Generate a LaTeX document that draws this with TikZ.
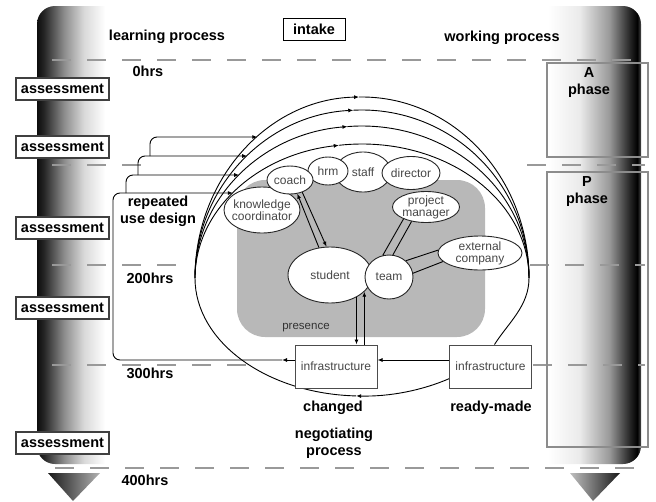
\documentclass[tikz,border=0pt]{standalone}
\usepackage{fontspec}
\setmainfont{Liberation Sans}
\usetikzlibrary{arrows.meta, shapes.geometric, calc}

\pgfdeclarehorizontalshading{leftbar}{100bp}{color(0bp)=(black); color(25bp)=(black!95); color(30bp)=(black!85); color(44bp)=(black!45); color(58bp)=(black!15); color(73bp)=(white); color(100bp)=(white)}
\pgfdeclarehorizontalshading{rightbar}{100bp}{color(0bp)=(white); color(25bp)=(white); color(42bp)=(black!8); color(58bp)=(black!40); color(69bp)=(black!85); color(73bp)=(black); color(75bp)=(black!70); color(100bp)=(black!70)}

\begin{document}
\begin{tikzpicture}[x=1pt, y=1pt, line width=0.9pt, >={Latex[length=5pt,width=4pt]},
  lbl/.style={font=\bfseries\fontsize{14.5}{17}\selectfont, inner sep=1pt, align=center},
  assess/.style={draw=black!75, line width=1.2pt, fill=white, minimum width=93pt, minimum height=22pt, inner sep=0pt, font=\bfseries\fontsize{14.5}{15}\selectfont},
  hourline/.style={draw=black!40, line width=2pt, dash pattern=on 19pt off 16pt},
  bubble/.style={ellipse, draw=black!85, line width=0.9pt, fill=white, inner sep=0pt},
  btext/.style={font=\fontsize{12}{12}\selectfont, text=black!72, align=center, inner sep=0pt},
  infra/.style={draw=black!70, line width=1pt, fill=white, minimum width=82pt, minimum height=43pt, font=\fontsize{12}{12}\selectfont, text=black!72},
  phasebox/.style={draw=black!45, line width=1.5pt, inner sep=0pt}]

  \useasboundingbox (0,0) rectangle (656,-501);

  % --- Time bars ---
  \shade[shading=leftbar] (108,-6) -- (55,-6) arc[start angle=90, end angle=180, radius=18]
    -- (37,-446) arc[start angle=180, end angle=270, radius=18] -- (108,-464) -- cycle;
  \shade[shading=rightbar] (548,-6) -- (623,-6) arc[start angle=90, end angle=0, radius=18]
    -- (641,-446) arc[start angle=0, end angle=-90, radius=18] -- (548,-464) -- cycle;
  \shade[left color=black!90, right color=black!30] (48,-473) -- (100,-473) -- (73,-501) -- cycle;
  \shade[left color=black!25, right color=black!90] (570,-473) -- (620,-473) -- (593,-501) -- cycle;

  % --- Hour lines ---
  \foreach \ya/\xa/\xb in {60/52/645, 165/52/150, 165/527/645, 265/52/178, 265/530/645,
                           365/52/253, 365/533/645, 468/55/645}
    \draw[hourline] (\xa,-\ya) -- (\xb,-\ya);

  % --- Presence area ---
  \fill[black!28, rounded corners=28pt] (237,-180) rectangle (485,-337);
  \node[font=\fontsize{11.5}{12}\selectfont, text=black!80] (presence) at (306,-328) {presence};

  % --- Use cycles ---
  \coordinate (hub) at (362,-278);
  \coordinate (arcR) at ([xshift=167pt]hub);
  \foreach \nm/\ry/\ta/\ty in {A/181/91/137, B/168/93/156, C/152/95/175, D/134/98/193} {
    \draw[->] ([shift={(180:167 and \ry)}]hub) arc[start angle=180, end angle=\ta, x radius=167, y radius=\ry];
    \draw ([shift={(\ta:167 and \ry)}]hub) arc[start angle=\ta, end angle=0, x radius=167, y radius=\ry];
    \coordinate (tip\nm) at ({362-167*sqrt(1-((278-\ty)/\ry)^2)},-\ty);
  }
  % lower half of the loop, back from the ready-made box
  \draw[->] ([shift={(302:167 and 118)}]hub) arc[start angle=302, end angle=268, x radius=167, y radius=118];
  \draw ([shift={(268:167 and 118)}]hub) arc[start angle=268, end angle=180, x radius=167, y radius=118];

  % --- Infrastructure boxes ---
  \node[infra] (changed) at (336,-366.5) {infrastructure};
  \node[infra] (ready) at (490.5,-366.5) {infrastructure};
  \draw (arcR) .. controls +(0,-28) and +(14,22) .. ([xshift=4pt]ready.north);

  % --- Repeated use tabs ---
  \coordinate (dropL) at (282,-360);
  \foreach \nm/\tx/\ny in {A/150/156, B/138/175, C/126/193}
    \draw[->, rounded corners=7pt] (\tx,-\ny) |- (tip\nm);
  \draw[->] ([yshift=6.5pt]changed.west) -- (dropL);
  \draw[->, rounded corners=7pt] (dropL) -| (113,-193) -- (tipD);
  \draw[->] ([yshift=6.5pt]ready.west) -- ([yshift=6.5pt]changed.east);

  % --- Actors ---
  \node[bubble, minimum width=56pt, minimum height=40pt, label={[btext]center:staff}] (staff) at (363,-172) {};
  \node[bubble, minimum width=40pt, minimum height=28pt, label={[btext]center:hrm}] (hrm) at (328,-171) {};
  \node[bubble, minimum width=58pt, minimum height=33pt, label={[btext]center:director}] (director) at (411,-173) {};
  \node[bubble, minimum width=76pt, minimum height=46pt, label={[btext]center:{knowledge\\coordinator}}] (kc) at (262,-210) {};
  \node[bubble, minimum width=46pt, minimum height=28pt, label={[btext]center:coach}] (coach) at (290,-180) {};
  \node[bubble, minimum width=67pt, minimum height=31pt, label={[btext]center:{project\\manager}}] (pm) at (426,-207) {};
  \node[bubble, minimum width=84pt, minimum height=34pt, label={[btext]center:{external\\company}}] (ext) at (480,-253) {};
  \node[bubble, minimum width=84pt, minimum height=56pt, label={[btext]center:student}] (student) at (330,-275) {};
  \node[bubble, minimum width=48pt, minimum height=44pt, label={[btext]center:team}] (team) at (389,-277) {};

  % --- Relations ---
  \draw[<-] (coach.-62) -- (student.112);
  \draw[->] (coach.-45) -- (student.97);
  \draw (pm.-152) -- (team.106);
  \draw (pm.-135) -- (team.80);
  \draw (team.44) -- (ext.176);
  \draw (team.9) -- (ext.-167);
  \draw[->] (student.-40) -- (student.-40 |- changed.north);
  \draw[<-] (student.-26) -- (student.-26 |- changed.north);

  % --- Labels ---
  \node[lbl] (learn) at (167,-37) {learning process};
  \node[lbl] (work) at (502,-38) {working process};
  \node[lbl, draw, line width=1pt, minimum width=62pt, minimum height=22pt, inner sep=0pt] (intake) at (314,-29) {intake};
  \node[lbl] (h0) at (148,-71) {0hrs};
  \node[lbl] (h200) at (150,-278) {200hrs};
  \node[lbl] (h300) at (150,-373) {300hrs};
  \node[lbl] (h400) at (145,-480) {400hrs};
  \node[lbl] (design) at (158,-211) {repeated\\use design};
  \node[lbl] (chg) at (333,-408) {changed};
  \node[lbl] (nego) at (334,-443) {negotiating\\process};
  \node[lbl] (made) at (491,-408) {ready-made};

  % --- Assessments and phases ---
  \foreach \ya [count=\i] in {89, 147, 228, 308, 443}
    \node[assess] (as\i) at (62.5,-\ya) {assessment};
  \node[phasebox, minimum width=101pt, minimum height=94pt] (abox) at (597.5,-110) {};
  \node[phasebox, minimum width=101pt, minimum height=275pt] (pbox) at (597.5,-309.5) {};
  \node[lbl] (aphase) at (589,-83) {A\\phase};
  \node[lbl] (pphase) at (587,-192) {P\\phase};

\end{tikzpicture}
\end{document}
